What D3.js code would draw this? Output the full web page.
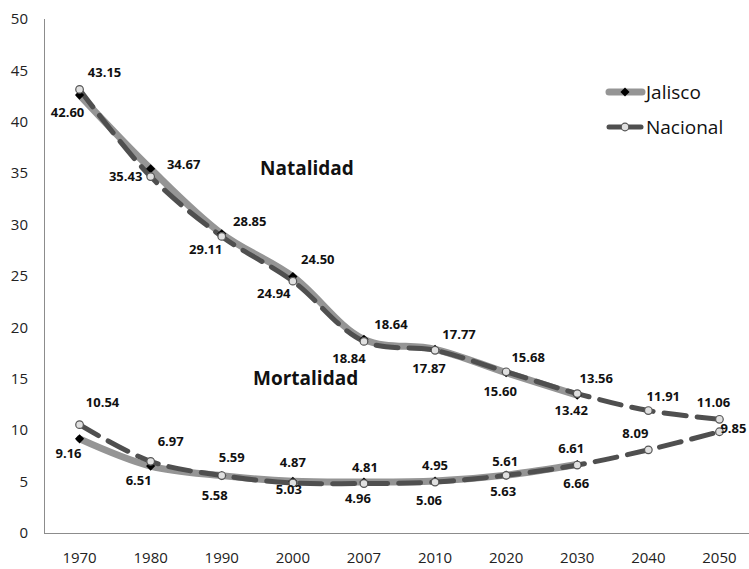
<!DOCTYPE html>
<html><head><meta charset="utf-8">
<script src="https://cdn.jsdelivr.net/npm/d3@7"></script>
<style>body{margin:0;background:#fff}svg{display:block}</style>
</head><body>
<svg id="c" width="749" height="569"></svg>
<script>
const years = ["1970","1980","1990","2000","2007","2010","2020","2030","2040","2050"];
const yTicks = [0,5,10,15,20,25,30,35,40,45,50];
const jaliscoNatalidad = [42.60,35.43,29.11,24.94,18.84,17.87,15.60,13.42];
const nacionalNatalidad = [43.15,34.67,28.85,24.50,18.64,17.77,15.68,13.56,11.91,11.06];
const jaliscoMortalidad = [9.16,6.51,5.58,5.03,4.96,5.06,5.63,6.66];
const nacionalMortalidad = [10.54,6.97,5.59,4.87,4.81,4.95,5.61,6.61,8.09,9.85];
const seriesNames = ["Jalisco","Nacional"];
const annotations = ["Natalidad","Mortalidad"];

// label offsets (layout only)
const offJN = [[-12,17],[-25,8],[-16,16],[-19,17],[-15,19],[-6,19],[-6,19],[-6,15]];
const offNN = [[25,-17],[33,-12],[28,-15],[25,-22],[27,-17],[24,-16],[22,-14],[19,-15],[15,-14],[-6,-17]];
const offJM = [[-11,15],[-12,14],[-7,20],[-4,8],[-6,16],[-6,19],[-3,16],[-1,19]];
const offNM = [[23,-22],[20,-20],[10,-18],[0,-20],[1,-16],[0,-17],[-1,-14],[-6,-17],[-13,-16],[14,-3]];

const svg = d3.select("#c");
const font = "'Open Sans', 'Noto Sans', sans-serif";
const x = d3.scaleBand().domain(years).range([44, 44 + 71.1*10]);
const cx = d => x(d) + x.bandwidth()/2;
const y = d3.scaleLinear().domain([0,50]).range([533,19]);

// axes
svg.append("line").attr("x1",44.5).attr("x2",44.5).attr("y1",y(50)).attr("y2",y(0)).attr("stroke","#8c8c8c").attr("stroke-width",1);
svg.append("line").attr("x1",44).attr("x2",749).attr("y1",y(0)+0.5).attr("y2",y(0)+0.5).attr("stroke","#8c8c8c").attr("stroke-width",1);
svg.append("g").selectAll("text").data(yTicks).join("text")
  .attr("x",28).attr("y",d=>y(d)).attr("dy","0.35em").attr("text-anchor","end")
  .attr("font-family",font).attr("font-size",15).attr("fill","#222").text(d=>d);
svg.append("g").selectAll("text").data(years).join("text")
  .attr("x",d=>cx(d)).attr("y",563).attr("text-anchor","middle")
  .attr("font-family",font).attr("font-size",15).attr("fill","#222").text(d=>d);

const line = d3.line().x((d,i)=>cx(years[i])).y(d=>y(d)).curve(d3.curveCatmullRom.alpha(0.5));

function jLine(vals){
  svg.append("path").datum(vals).attr("d",line).attr("fill","none")
    .attr("stroke","#959595").attr("stroke-width",7).attr("stroke-linecap","round");
}
function nLine(vals){
  svg.append("path").datum(vals).attr("d",line).attr("fill","none")
    .attr("stroke","#4f4f4f").attr("stroke-width",5).attr("stroke-dasharray","22,11").attr("stroke-linecap","round");
}
function jMarks(vals){
  svg.append("g").selectAll("path").data(vals).join("path")
    .attr("d", d3.symbol().type(d3.symbolSquare).size(42))
    .attr("transform",(d,i)=>`translate(${cx(years[i])},${y(d)}) rotate(45)`)
    .attr("fill","#000");
}
function nMarks(vals){
  svg.append("g").selectAll("circle").data(vals).join("circle")
    .attr("cx",(d,i)=>cx(years[i])).attr("cy",d=>y(d)).attr("r",3.8)
    .attr("fill","#e0e0e0").attr("stroke","#555").attr("stroke-width",1.2);
}
function labels(vals, offs){
  svg.append("g").selectAll("text").data(vals).join("text")
    .attr("x",(d,i)=>cx(years[i])+offs[i][0]).attr("y",(d,i)=>y(d)+offs[i][1])
    .attr("dy","0.35em").attr("text-anchor","middle")
    .attr("font-family",font).attr("font-size",13).attr("font-weight","bold").attr("fill","#111")
    .text(d=>d.toFixed(2));
}

jLine(jaliscoNatalidad); jLine(jaliscoMortalidad);
nLine(nacionalNatalidad); nLine(nacionalMortalidad);
jMarks(jaliscoNatalidad); jMarks(jaliscoMortalidad);
nMarks(nacionalNatalidad); nMarks(nacionalMortalidad);
labels(jaliscoNatalidad, offJN); labels(nacionalNatalidad, offNN);
labels(jaliscoMortalidad, offJM); labels(nacionalMortalidad, offNM);

// annotations
svg.append("text").attr("x",260).attr("y",175).attr("font-family",font).attr("font-size",19)
  .attr("font-weight","bold").attr("fill","#111").text(annotations[0]);
svg.append("text").attr("x",253).attr("y",385).attr("font-family",font).attr("font-size",19)
  .attr("font-weight","bold").attr("fill","#111").text(annotations[1]);

// legend
const lg = svg.append("g");
[[92,0],[127,1]].forEach(([ly,k])=>{
  if(k===0){
    lg.append("line").attr("x1",609).attr("x2",642).attr("y1",ly).attr("y2",ly).attr("stroke","#959595").attr("stroke-width",7).attr("stroke-linecap","round");
    lg.append("path").attr("d",d3.symbol().type(d3.symbolSquare).size(42)).attr("transform",`translate(625,${ly}) rotate(45)`).attr("fill","#000");
  } else {
    lg.append("line").attr("x1",609).attr("x2",641).attr("y1",ly).attr("y2",ly).attr("stroke","#4f4f4f").attr("stroke-width",5).attr("stroke-linecap","round");
    lg.append("circle").attr("cx",625).attr("cy",ly).attr("r",3.8).attr("fill","#e0e0e0").attr("stroke","#555").attr("stroke-width",1.2);
  }
  lg.append("text").attr("x",646).attr("y",ly).attr("dy","0.36em").attr("font-family",font).attr("font-size",19).attr("fill","#111").text(seriesNames[k]);
});
</script>
</body></html>
